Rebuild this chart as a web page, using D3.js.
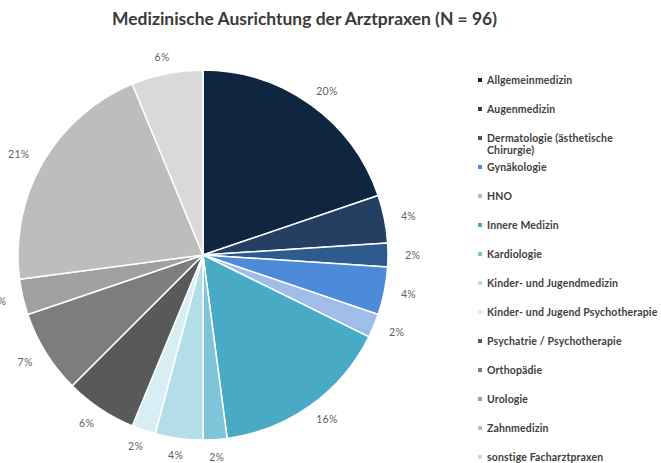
<!DOCTYPE html>
<html>
<head>
<meta charset="utf-8">
<script src="https://cdn.jsdelivr.net/npm/d3@7"></script>
<style>
  html, body { margin: 0; padding: 0; background: #fff; }
  svg { display: block; }
</style>
</head>
<body>
<script>
// Praxis categories and number of practices per category (N = 96)
const categories = [
  "Allgemeinmedizin",
  "Augenmedizin",
  "Dermatologie (ästhetische Chirurgie)",
  "Gynäkologie",
  "HNO",
  "Innere Medizin",
  "Kardiologie",
  "Kinder- und Jugendmedizin",
  "Kinder- und Jugend Psychotherapie",
  "Psychatrie / Psychotherapie",
  "Orthopädie",
  "Urologie",
  "Zahnmedizin",
  "sonstige Facharztpraxen"
];
const counts = [19, 4, 2, 4, 2, 15, 2, 4, 2, 6, 7, 3, 20, 6];
const colors = [
  "#0f2640", "#243f62", "#2e5b8e", "#4d8bd8", "#9fbde9", "#49aac5", "#7ec5da",
  "#b3dde9", "#d8eef5", "#595959", "#7d7d7d", "#a0a0a0", "#bdbdbd", "#d9d9d9"
];
// Legend lines (the long Dermatologie entry wraps onto two lines)
const legendLines = [
  ["Allgemeinmedizin"],
  ["Augenmedizin"],
  ["Dermatologie (ästhetische", "Chirurgie)"],
  ["Gynäkologie"],
  ["HNO"],
  ["Innere Medizin"],
  ["Kardiologie"],
  ["Kinder- und Jugendmedizin"],
  ["Kinder- und Jugend Psychotherapie"],
  ["Psychatrie / Psychotherapie"],
  ["Orthopädie"],
  ["Urologie"],
  ["Zahnmedizin"],
  ["sonstige Facharztpraxen"]
];
const title = "Medizinische Ausrichtung der Arztpraxen (N = 96)";

const W = 661, H = 463;
const cx = 203, cy = 255, R = 185;
const total = d3.sum(counts);
const fmt = d3.format(".0%");

const svg = d3.select("body").append("svg")
  .attr("width", W).attr("height", H)
  .style("font-family", "Lato, 'Open Sans', sans-serif");

svg.append("text")
  .attr("x", 112).attr("y", 25)
  .attr("font-size", 16.5).attr("font-weight", "bold")
  .attr("fill", "#3a3a3a")
  .attr("textLength", 385)
  .attr("lengthAdjust", "spacingAndGlyphs")
  .text(title);

const data = categories.map((c, i) => ({ name: c, value: counts[i], color: colors[i] }));
const pie = d3.pie().value(d => d.value).sort(null);
const arcs = pie(data);
const arc = d3.arc().innerRadius(0).outerRadius(R);

const g = svg.append("g").attr("transform", `translate(${cx},${cy})`);
g.selectAll("path.slice")
  .data(arcs)
  .join("path")
  .attr("class", "slice")
  .attr("d", arc)
  .attr("fill", d => d.data.color)
  .attr("stroke", "#fff")
  .attr("stroke-width", 1.5)
  .attr("stroke-linejoin", "round");

// Percentage labels placed just outside the rim, pushed out by half the label box
const gap = 14;
const labels = g.selectAll("text.pct")
  .data(arcs)
  .join("text")
  .attr("class", "pct")
  .attr("font-size", 10.5)
  .attr("fill", "#5f5f5f")
  .attr("text-anchor", "middle")
  .attr("dominant-baseline", "central")
  .attr("letter-spacing", 0.3)
  .text(d => fmt(d.data.value / total));

labels.each(function (d) {
  const a = (d.startAngle + d.endAngle) / 2;
  const s = Math.sin(a), c = -Math.cos(a);
  const w = this.getComputedTextLength();
  const x = (R + gap + 1) * s + (w / 2 + 2) * s;
  const y = (R + gap) * c + 3 * c;
  d3.select(this).attr("x", x).attr("y", y);
});

// Legend
const legend = svg.append("g").attr("transform", "translate(480,80)");
const rowStep = 29;
const rows = legend.selectAll("g.row")
  .data(data)
  .join("g")
  .attr("class", "row")
  .attr("transform", (d, i) => `translate(0,${i * rowStep})`);

rows.append("rect")
  .attr("x", -2).attr("y", -2)
  .attr("width", 4).attr("height", 4)
  .attr("fill", d => d.color);

rows.append("text")
  .attr("x", 7)
  .attr("dominant-baseline", "central")
  .attr("font-size", 10.5)
  .attr("font-weight", "bold")
  .attr("letter-spacing", 0.15)
  .attr("fill", "#404040")
  .each(function (d, i) {
    d3.select(this).selectAll("tspan")
      .data(legendLines[i])
      .join("tspan")
      .attr("x", 7)
      .attr("dy", (t, j) => j === 0 ? 0 : 12)
      .text(t => t);
  });
</script>
</body>
</html>
